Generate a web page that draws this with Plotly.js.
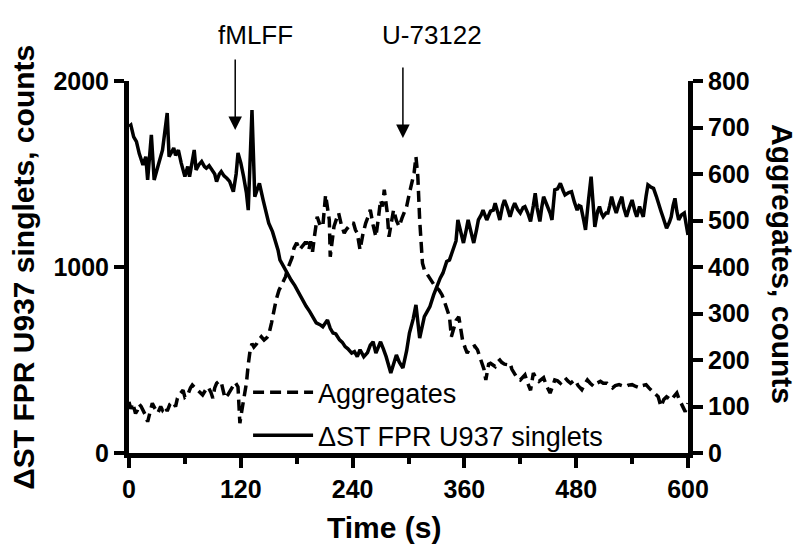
<!DOCTYPE html>
<html>
<head>
<meta charset="utf-8">
<script src="https://cdn.plot.ly/plotly-3.0.1.min.js"></script>
<style>
  body { margin: 0; background: #fff; }
  #chart { width: 800px; height: 558px; }
</style>
</head>
<body>
<div id="chart"></div>
<script>
// singlets (left axis)
var singletTime = [0,2,5,8,11,13,15,18,20,24,27,31,34,36,41,43,46,48,50,53,56,60,63,65,70,72,75,78,81,83,86,89,92,94,97,99,102,105,108,112,115,117,120,123,126,128,132,135,138,140,144,147,150,154,157,160,162,166,170,174,178,182,186,190,194,197,201,205,208,213,216,219,222,226,229,232,235,239,242,245,248,252,256,259,262,265,270,273,276,281,284,287,290,294,298,301,305,308,312,317,320,323,327,330,334,337,341,344,348,351,353,356,359,362,364,367,370,373,375,378,380,384,388,391,393,396,398,401,403,406,409,412,414,417,420,423,425,428,431,434,436,438,441,443,445,448,450,452,454,457,460,463,466,468,472,475,478,481,483,485,488,490,493,496,498,500,503,505,507,509,512,514,516,518,521,523,526,529,531,534,537,540,543,545,548,550,552,555,557,560,563,566,568,571,573,575,577,580,582,584,586,588,590,593,596,598,600];
var singletCounts = [1755,1763,1700,1674,1610,1575,1548,1593,1468,1710,1468,1540,1590,1629,1828,1593,1620,1640,1600,1629,1560,1486,1540,1486,1629,1522,1550,1567,1540,1531,1545,1522,1500,1459,1500,1513,1490,1477,1460,1405,1500,1613,1560,1486,1400,1306,1844,1378,1420,1450,1360,1300,1236,1190,1145,1090,1038,1000,968,930,900,860,823,790,760,733,700,690,679,715,670,645,640,608,595,572,560,537,545,518,555,518,540,580,598,537,598,560,518,430,480,527,490,457,550,645,720,796,618,733,760,787,850,894,940,968,1030,1038,1100,1140,1253,1180,1129,1200,1253,1190,1129,1200,1253,1280,1306,1253,1300,1306,1343,1290,1253,1330,1360,1320,1270,1320,1343,1310,1290,1320,1325,1290,1245,1330,1396,1320,1245,1320,1378,1340,1316,1290,1253,1415,1420,1450,1410,1387,1400,1405,1350,1306,1330,1325,1253,1200,1350,1486,1350,1216,1300,1325,1290,1270,1290,1290,1330,1378,1320,1290,1340,1378,1320,1270,1320,1360,1300,1270,1325,1290,1270,1380,1441,1430,1423,1380,1343,1300,1270,1240,1208,1240,1270,1330,1369,1300,1253,1280,1290,1230,1172];

// aggregates (right axis)
var aggTime = [0,2,4,7,9,11,13,16,18,20,23,25,28,31,34,36,39,41,44,47,50,52,55,58,60,63,66,68,71,74,77,79,82,85,88,90,92,94,97,99,101,103,106,108,111,114,117,119,121,123,126,128,130,132,134,137,139,142,145,148,150,153,155,158,161,165,168,170,173,175,177,180,183,186,189,191,193,195,197,199,202,205,208,211,213,215,216,218,220,223,225,228,231,233,236,239,241,243,245,248,251,254,257,259,262,265,268,270,272,274,277,279,282,284,287,290,293,295,298,301,304,306,308,310,312,315,317,320,324,328,333,336,338,341,344,346,349,351,354,356,358,361,363,366,369,371,374,377,379,381,383,386,388,390,393,395,398,400,403,406,409,411,414,417,420,423,425,428,431,434,437,440,443,445,448,452,455,457,460,463,466,468,471,474,477,479,482,486,489,492,495,499,502,506,509,513,516,519,522,526,529,533,536,540,544,548,551,555,558,562,565,568,571,574,577,580,582,585,588,590,593,595,597,600];
var aggCounts = [110,95,107,85,92,105,100,90,80,67,95,107,95,86,100,92,100,90,105,110,100,118,128,135,120,125,140,146,140,135,130,125,135,142,130,118,140,150,155,152,135,118,125,132,145,152,142,64,90,117,150,190,221,235,228,235,243,250,243,248,254,280,301,330,350,365,379,395,408,420,440,452,437,444,452,452,437,455,433,465,508,490,487,555,520,501,422,460,487,505,516,490,473,480,487,495,494,480,473,437,470,494,510,523,490,465,510,544,530,566,520,465,500,523,500,487,505,516,530,559,585,602,637,595,501,408,394,385,372,360,350,340,329,310,293,250,275,285,293,270,243,225,215,225,229,230,222,205,193,180,157,191,193,190,186,195,200,195,191,190,193,180,168,160,157,165,168,150,135,172,160,154,160,162,145,129,145,157,155,150,158,162,155,150,155,157,145,136,148,157,150,143,150,154,150,150,145,140,145,147,145,143,146,147,143,140,145,147,140,133,128,121,100,115,121,118,114,122,129,118,107,100,89,107];

var xTicks = [0, 120, 240, 360, 480, 600];
var xMinorTicks = [60, 180, 300, 420, 540];
var leftTicks = [0, 1000, 2000];

var eventTime = [114, 294];
var eventLabel = ['fMLFF', 'U-73122'];
var eventLabelTime = [136, 325];
var eventTipY = [0.868, 0.847];

var FONT = 'Liberation Sans, Arial, Helvetica, sans-serif';

var aggTrace = {
  x: aggTime, y: aggCounts, yaxis: 'y2',
  type: 'scatter', mode: 'lines', name: 'Aggregates',
  legendgroup: 'a',
  line: {color: '#000', width: 3.5, dash: '11px,6px'}
};
var singletTrace = {
  x: singletTime, y: singletCounts,
  type: 'scatter', mode: 'lines', name: '\u0394ST FPR U937 singlets',
  legendgroup: 'b',
  line: {color: '#000', width: 3.5}
};

var tickFont = {family: FONT, size: 25, color: '#000', weight: 'bold'};

var annotations = [];
eventTime.forEach(function (t, i) {
  annotations.push({
    x: t, y: eventTipY[i], xref: 'x', yref: 'paper',
    ax: 0, ay: -72, text: '', showarrow: true,
    arrowhead: 2, arrowsize: 1.8, arrowwidth: 1.5, arrowcolor: '#000'
  });
  annotations.push({
    x: eventLabelTime[i], y: 1.125, xref: 'x', yref: 'paper',
    text: eventLabel[i], showarrow: false, xanchor: 'center', yanchor: 'middle',
    font: {family: FONT, size: 26, color: '#000'}
  });
});
annotations.push({
  x: -0.19, y: 0.5, xref: 'paper', yref: 'paper', textangle: -90,
  xanchor: 'center', yanchor: 'middle',
  text: '\u0394ST FPR U937 singlets, counts', showarrow: false,
  font: {family: FONT, size: 30, color: '#000', weight: 'bold'}
});
annotations.push({
  x: 1.17, y: 0.508, xref: 'paper', yref: 'paper', textangle: 90,
  xanchor: 'center', yanchor: 'middle',
  text: 'Aggregates, counts', showarrow: false,
  font: {family: FONT, size: 30, color: '#000', weight: 'bold'}
});
annotations.push({
  x: 0.457, y: -0.2, xref: 'paper', yref: 'paper', xanchor: 'center', yanchor: 'middle',
  text: 'Time (s)', showarrow: false,
  font: {family: FONT, size: 30, color: '#000', weight: 'bold'}
});

var layout = {
  width: 800, height: 558,
  margin: {l: 129, r: 112, t: 81, b: 105},
  paper_bgcolor: '#fff', plot_bgcolor: '#fff',
  font: {family: FONT, color: '#000'},
  showlegend: true,
  legend: {
    x: 0.213, y: 0.228, xanchor: 'left', yanchor: 'top',
    bgcolor: 'rgba(0,0,0,0)', traceorder: 'grouped', tracegroupgap: 5,
    itemwidth: 60,
    font: {family: FONT, size: 27, color: '#000'}
  },
  xaxis: {
    range: [0, 600], tickvals: xTicks, ticks: 'outside', ticklen: 10, tickwidth: 4,
    tickcolor: '#000', showline: true, linewidth: 5, linecolor: '#000',
    showgrid: false, zeroline: false, tickfont: tickFont,
    minor: {tickvals: xMinorTicks, ticks: 'outside', ticklen: 6, tickwidth: 4, tickcolor: '#000', showgrid: false}
  },
  yaxis: {
    range: [0, 2000], tickvals: leftTicks, ticks: 'outside', ticklen: 10, tickwidth: 4,
    tickcolor: '#000', showline: true, linewidth: 5, linecolor: '#000',
    showgrid: false, zeroline: false, tickfont: tickFont
  },
  yaxis2: {
    range: [0, 800], dtick: 100, overlaying: 'y', side: 'right',
    ticks: 'outside', ticklen: 10, tickwidth: 4, tickcolor: '#000',
    showline: true, linewidth: 5, linecolor: '#000',
    showgrid: false, zeroline: false, tickfont: tickFont
  },
  annotations: annotations
};

Plotly.newPlot('chart', [aggTrace, singletTrace], layout, {displayModeBar: false, staticPlot: true});
</script>
</body>
</html>
